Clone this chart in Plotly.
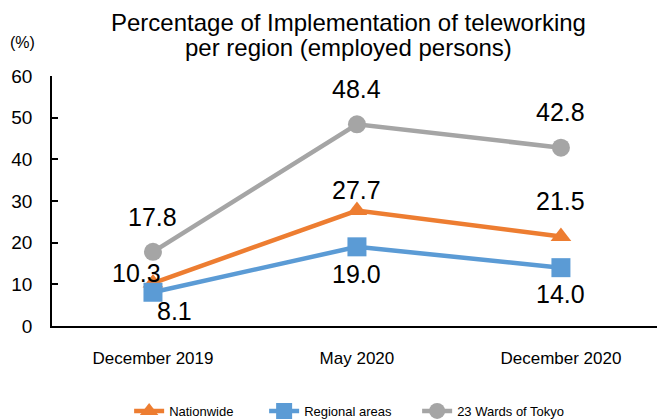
import plotly.graph_objects as go

# Survey periods and teleworking rates (%) by region
periods = ["December 2019", "May 2020", "December 2020"]
nationwide = [10.3, 27.7, 21.5]
regional_areas = [8.1, 19.0, 14.0]
tokyo_23_wards = [17.8, 48.4, 42.8]
y_ticks = [0, 10, 20, 30, 40, 50, 60]
title_lines = ["Percentage of Implementation of teleworking",
               "per region (employed persons)"]

FONT = "Liberation Sans, Arial, sans-serif"

# plot-area geometry in pixels
LEFT, TOP, BOTTOM = 52, 76, 93
W, H = 657, 419
PLOT_W, PLOT_H = W - LEFT, H - TOP - BOTTOM


def px_x(x):
    return (x - LEFT) / PLOT_W


def px_y(y):
    return (H - BOTTOM - y) / PLOT_H


# name, values, colour, marker symbol, marker size, legend entry width
series = [
    ("Nationwide", nationwide, "#ED7D31", "triangle-up", 18, 90),
    ("Regional areas", regional_areas, "#5B9BD5", "square", 19, 108),
    ("23 Wards of Tokyo", tokyo_23_wards, "#A5A5A5", "circle", 18, 125),
]

# label offsets in pixels (dx, dy up) per series and period
label_offsets = {
    "Nationwide": [(-16, 10), (0, 21), (0, 35)],
    "Regional areas": [(22, -19), (0, -27), (0, -26)],
    "23 Wards of Tokyo": [(0, 35), (0, 35), (0, 36)],
}

fig = go.Figure()
annotations = []
for name, vals, color, symbol, size, lw in series:
    fig.add_trace(go.Scatter(
        x=list(range(len(periods))), y=vals, name=name,
        mode="lines+markers",
        line=dict(color=color, width=4.5),
        marker=dict(symbol=symbol, size=size, color=color),
        legendwidth=lw,
    ))
    for i, v in enumerate(vals):
        dx, dy = label_offsets[name][i]
        annotations.append(dict(
            x=i, y=v, xref="x", yref="y", text=f"{v:.1f}",
            showarrow=False, xshift=dx, yshift=dy,
            font=dict(family=FONT, size=25, color="#000000"),
        ))

# two-line chart heading
for text, cy in zip(title_lines, [22, 48]):
    annotations.append(dict(
        x=px_x(348), y=px_y(cy), xref="paper", yref="paper",
        xanchor="center", yanchor="middle", text=text, showarrow=False,
        font=dict(family=FONT, size=24, color="#000000"),
    ))

# unit label above the value axis
annotations.append(dict(
    x=px_x(22), y=px_y(42), xref="paper", yref="paper",
    xanchor="center", yanchor="middle", text="(%)", showarrow=False,
    font=dict(family=FONT, size=16, color="#000000"),
))

fig.update_layout(
    width=W, height=H,
    margin=dict(l=LEFT, r=0, t=TOP, b=BOTTOM, autoexpand=False),
    paper_bgcolor="white", plot_bgcolor="white",
    font=dict(family=FONT, color="#000000"),
    xaxis=dict(
        tickmode="array", tickvals=list(range(len(periods))), ticktext=periods,
        range=[-0.495, 2.471], showgrid=False, zeroline=False,
        showline=True, linecolor="#000000", linewidth=1.5,
        ticks="", ticklabelstandoff=16,
        tickfont=dict(family=FONT, size=17, color="#000000"),
    ),
    yaxis=dict(
        range=[0, 60], tickvals=y_ticks, showgrid=False, zeroline=False,
        showline=True, linecolor="#000000", linewidth=1.5,
        ticks="inside", ticklen=6, tickwidth=1.5, tickcolor="#000000",
        ticklabelstandoff=14,
        tickfont=dict(family=FONT, size=19, color="#000000"),
    ),
    legend=dict(
        orientation="h", x=0.506, xanchor="center",
        y=px_y(411), yanchor="middle",
        font=dict(family=FONT, size=13, color="#000000"),
        bgcolor="rgba(0,0,0,0)",
    ),
    annotations=annotations,
)

fig.write_html("out.html")
